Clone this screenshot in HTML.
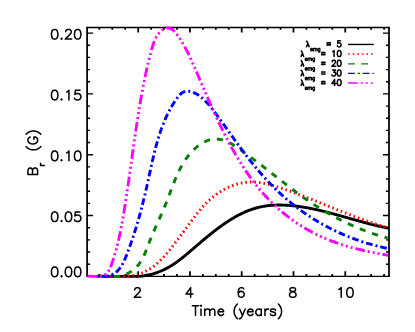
<!DOCTYPE html>
<html><head><meta charset="utf-8"><title>Br vs Time</title>
<style>html,body{margin:0;padding:0;background:#fff;font-family:"Liberation Sans",sans-serif}svg{display:block}</style></head>
<body>
<svg width="415" height="332" viewBox="0 0 415 332">
<rect width="415" height="332" fill="#fff"/>
<path d="M86.95 27.50 H389.15 M86.95 276.35 H389.15" fill="none" stroke="#000" stroke-width="1.40" stroke-linecap="round"/><path d="M87.10 27.65 V276.20 M389.00 27.65 V276.20" fill="none" stroke="#000" stroke-width="1.75" stroke-linecap="round"/>
<path d="M87.10 264.19 h3.00 M389.00 264.19 h-3.00 M87.10 252.03 h3.00 M389.00 252.03 h-3.00 M87.10 239.86 h3.00 M389.00 239.86 h-3.00 M87.10 227.70 h3.00 M389.00 227.70 h-3.00 M87.10 215.54 h6.00 M389.00 215.54 h-6.00 M87.10 203.38 h3.00 M389.00 203.38 h-3.00 M87.10 191.21 h3.00 M389.00 191.21 h-3.00 M87.10 179.05 h3.00 M389.00 179.05 h-3.00 M87.10 166.89 h3.00 M389.00 166.89 h-3.00 M87.10 154.73 h6.00 M389.00 154.73 h-6.00 M87.10 142.56 h3.00 M389.00 142.56 h-3.00 M87.10 130.40 h3.00 M389.00 130.40 h-3.00 M87.10 118.24 h3.00 M389.00 118.24 h-3.00 M87.10 106.08 h3.00 M389.00 106.08 h-3.00 M87.10 93.91 h6.00 M389.00 93.91 h-6.00 M87.10 81.75 h3.00 M389.00 81.75 h-3.00 M87.10 69.59 h3.00 M389.00 69.59 h-3.00 M87.10 57.42 h3.00 M389.00 57.42 h-3.00 M87.10 45.26 h3.00 M389.00 45.26 h-3.00 M87.10 33.10 h6.00 M389.00 33.10 h-6.00" fill="none" stroke="#000" stroke-width="1.40"/>
<path d="M99.35 276.35 v-2.30 M99.35 27.50 v2.30 M112.29 276.35 v-2.30 M112.29 27.50 v2.30 M125.24 276.35 v-2.30 M125.24 27.50 v2.30 M138.18 276.35 v-5.00 M138.18 27.50 v5.00 M151.12 276.35 v-2.30 M151.12 27.50 v2.30 M164.06 276.35 v-2.30 M164.06 27.50 v2.30 M177.00 276.35 v-2.30 M177.00 27.50 v2.30 M189.95 276.35 v-5.00 M189.95 27.50 v5.00 M202.89 276.35 v-2.30 M202.89 27.50 v2.30 M215.83 276.35 v-2.30 M215.83 27.50 v2.30 M228.77 276.35 v-2.30 M228.77 27.50 v2.30 M241.71 276.35 v-5.00 M241.71 27.50 v5.00 M254.66 276.35 v-2.30 M254.66 27.50 v2.30 M267.60 276.35 v-2.30 M267.60 27.50 v2.30 M280.54 276.35 v-2.30 M280.54 27.50 v2.30 M293.48 276.35 v-5.00 M293.48 27.50 v5.00 M306.42 276.35 v-2.30 M306.42 27.50 v2.30 M319.37 276.35 v-2.30 M319.37 27.50 v2.30 M332.31 276.35 v-2.30 M332.31 27.50 v2.30 M345.25 276.35 v-5.00 M345.25 27.50 v5.00 M358.19 276.35 v-2.30 M358.19 27.50 v2.30 M371.13 276.35 v-2.30 M371.13 27.50 v2.30 M384.08 276.35 v-2.30 M384.08 27.50 v2.30" fill="none" stroke="#000" stroke-width="1.75"/>
<clipPath id="c"><rect x="86.40" y="25.90" width="303.30" height="252.05"/></clipPath>
<clipPath id="c2"><rect x="97.4" y="25.90" width="292.30" height="252.05"/></clipPath>
<g clip-path="url(#c)" fill="none" stroke-width="2.90">
<path d="M87.52 276.31 L88.13 276.27 L88.75 276.24 L89.38 276.21 L90.00 276.19 L90.63 276.16 L91.26 276.14 L91.89 276.13 L92.52 276.11 L93.15 276.10 L93.79 276.09 L94.42 276.09 L95.06 276.09 L95.70 276.08 L96.34 276.09 L96.99 276.09 L97.63 276.10 L98.27 276.10 L98.92 276.11 L99.57 276.12 L100.22 276.14 L100.87 276.15 L101.52 276.17 L102.17 276.18 L102.83 276.20 L103.48 276.22 L104.14 276.24 L104.79 276.27 L105.45 276.29 L106.11 276.31 L106.77 276.34 L107.43 276.35 L108.09 276.35 L108.75 276.35 L109.41 276.35 L110.08 276.35 L110.74 276.35 L111.40 276.35 L112.07 276.35 L112.73 276.35 L113.40 276.35 L114.07 276.35 L114.73 276.35 L115.40 276.35 L116.07 276.35 L116.73 276.35 L117.40 276.35 L118.07 276.35 L118.73 276.35 L119.40 276.35 L120.07 276.35 L120.74 276.35 L121.40 276.35 L122.07 276.35 L122.74 276.35 L123.41 276.35 L124.07 276.35 L124.74 276.35 L125.41 276.35 L126.07 276.35 L126.74 276.35 L127.40 276.35 L128.07 276.35 L128.73 276.35 L129.40 276.35 L130.06 276.35 L130.72 276.35 L131.38 276.35 L132.05 276.35 L132.71 276.35 L133.37 276.35 L134.03 276.35 L134.68 276.35 L135.34 276.35 L136.00 276.35 L136.65 276.35 L137.31 276.35 L137.96 276.35 L138.61 276.35 L139.26 276.35 L139.91 276.30 L140.56 276.23 L141.21 276.15 L141.86 276.08 L142.50 275.99 L143.14 275.91 L143.79 275.81 L144.43 275.72 L145.07 275.62 L145.70 275.51 L146.34 275.40 L146.97 275.28 L147.61 275.16 L148.24 275.03 L148.87 274.90 L149.49 274.76 L150.12 274.61 L150.74 274.46 L151.37 274.31 L151.99 274.14 L152.60 273.98 L153.22 273.80 L153.83 273.62 L154.45 273.43 L155.06 273.24 L155.66 273.04 L156.27 272.84 L156.87 272.63 L157.48 272.41 L158.08 272.19 L158.67 271.97 L159.27 271.73 L159.86 271.50 L160.46 271.25 L161.05 271.00 L161.63 270.75 L162.22 270.49 L162.80 270.23 L163.38 269.96 L163.96 269.68 L164.54 269.40 L165.12 269.12 L165.69 268.83 L166.26 268.53 L166.83 268.23 L167.39 267.93 L167.96 267.62 L168.52 267.31 L169.08 266.99 L169.64 266.67 L170.19 266.34 L170.75 266.01 L171.30 265.67 L171.85 265.33 L172.40 264.99 L172.94 264.64 L173.48 264.28 L174.02 263.93 L174.56 263.56 L175.10 263.20 L175.63 262.83 L176.16 262.46 L176.69 262.08 L177.22 261.70 L177.75 261.32 L178.27 260.93 L178.80 260.54 L179.32 260.15 L179.84 259.76 L180.36 259.36 L180.87 258.96 L181.39 258.56 L181.90 258.15 L182.42 257.74 L182.93 257.33 L183.44 256.92 L183.95 256.51 L184.45 256.09 L184.96 255.68 L185.47 255.26 L185.97 254.84 L186.48 254.42 L186.98 253.99 L187.48 253.57 L187.98 253.15 L188.48 252.72 L188.99 252.29 L189.49 251.87 L189.98 251.44 L190.48 251.01 L190.98 250.58 L191.48 250.16 L191.98 249.73 L192.48 249.30 L192.97 248.87 L193.47 248.44 L193.97 248.02 L194.47 247.59 L194.96 247.16 L195.46 246.73 L195.96 246.31 L196.45 245.88 L196.95 245.45 L197.45 245.03 L197.95 244.60 L198.44 244.17 L198.94 243.75 L199.44 243.32 L199.94 242.90 L200.43 242.48 L200.93 242.05 L201.43 241.63 L201.93 241.21 L202.43 240.79 L202.93 240.36 L203.43 239.94 L203.93 239.52 L204.43 239.10 L204.93 238.69 L205.44 238.27 L205.94 237.85 L206.44 237.43 L206.95 237.02 L207.45 236.60 L207.96 236.19 L208.46 235.78 L208.97 235.37 L209.48 234.95 L209.98 234.54 L210.49 234.13 L211.00 233.73 L211.51 233.32 L212.03 232.91 L212.54 232.51 L213.05 232.10 L213.57 231.70 L214.08 231.30 L214.60 230.90 L215.12 230.50 L215.64 230.10 L216.16 229.71 L216.68 229.31 L217.20 228.92 L217.72 228.52 L218.25 228.13 L218.78 227.74 L219.30 227.36 L219.83 226.97 L220.36 226.58 L220.89 226.20 L221.43 225.82 L221.96 225.44 L222.50 225.06 L223.04 224.68 L223.58 224.30 L224.12 223.93 L224.66 223.56 L225.20 223.19 L225.75 222.82 L226.30 222.45 L226.84 222.09 L227.39 221.73 L227.95 221.37 L228.50 221.01 L229.05 220.65 L229.61 220.30 L230.17 219.95 L230.73 219.60 L231.29 219.26 L231.85 218.91 L232.41 218.57 L232.98 218.24 L233.54 217.90 L234.11 217.57 L234.68 217.24 L235.25 216.92 L235.82 216.60 L236.40 216.28 L236.97 215.96 L237.55 215.65 L238.12 215.34 L238.70 215.04 L239.29 214.74 L239.87 214.44 L240.45 214.14 L241.04 213.85 L241.62 213.57 L242.21 213.28 L242.80 213.01 L243.39 212.73 L243.98 212.46 L244.58 212.19 L245.17 211.93 L245.77 211.67 L246.37 211.42 L246.96 211.17 L247.57 210.92 L248.17 210.68 L248.77 210.45 L249.38 210.22 L249.98 209.99 L250.59 209.77 L251.20 209.55 L251.81 209.34 L252.42 209.13 L253.03 208.93 L253.65 208.74 L254.26 208.54 L254.88 208.36 L255.50 208.18 L256.12 208.00 L256.74 207.83 L257.36 207.67 L257.98 207.51 L258.61 207.36 L259.24 207.21 L259.86 207.07 L260.49 206.93 L261.12 206.80 L261.75 206.67 L262.38 206.55 L263.02 206.43 L263.65 206.32 L264.29 206.22 L264.92 206.11 L265.56 206.02 L266.20 205.93 L266.84 205.84 L267.48 205.76 L268.12 205.68 L268.76 205.61 L269.40 205.54 L270.05 205.48 L270.69 205.42 L271.34 205.37 L271.98 205.32 L272.63 205.27 L273.28 205.23 L273.92 205.19 L274.57 205.16 L275.22 205.13 L275.87 205.11 L276.52 205.09 L277.17 205.07 L277.82 205.06 L278.47 205.05 L279.12 205.05 L279.77 205.05 L280.43 205.05 L281.08 205.06 L281.73 205.07 L282.38 205.08 L283.04 205.10 L283.69 205.12 L284.34 205.15 L285.00 205.17 L285.65 205.20 L286.31 205.24 L286.96 205.28 L287.61 205.32 L288.27 205.36 L288.92 205.41 L289.57 205.46 L290.23 205.51 L290.88 205.57 L291.54 205.63 L292.19 205.69 L292.84 205.76 L293.49 205.82 L294.15 205.90 L294.80 205.97 L295.45 206.04 L296.10 206.12 L296.75 206.20 L297.41 206.29 L298.06 206.37 L298.71 206.46 L299.36 206.55 L300.00 206.64 L300.65 206.74 L301.30 206.83 L301.95 206.93 L302.60 207.03 L303.24 207.13 L303.89 207.24 L304.53 207.35 L305.18 207.46 L305.82 207.57 L306.47 207.68 L307.11 207.80 L307.76 207.91 L308.40 208.03 L309.04 208.15 L309.68 208.27 L310.33 208.40 L310.97 208.52 L311.61 208.65 L312.25 208.78 L312.89 208.91 L313.53 209.05 L314.17 209.18 L314.81 209.32 L315.45 209.45 L316.09 209.59 L316.72 209.73 L317.36 209.87 L318.00 210.02 L318.64 210.16 L319.27 210.31 L319.91 210.46 L320.55 210.61 L321.18 210.76 L321.82 210.91 L322.45 211.06 L323.09 211.21 L323.72 211.37 L324.36 211.52 L324.99 211.68 L325.63 211.84 L326.26 212.00 L326.89 212.16 L327.53 212.32 L328.16 212.48 L328.79 212.65 L329.43 212.81 L330.06 212.98 L330.69 213.14 L331.32 213.31 L331.95 213.48 L332.59 213.64 L333.22 213.81 L333.85 213.98 L334.48 214.15 L335.11 214.33 L335.74 214.50 L336.37 214.67 L337.00 214.84 L337.63 215.02 L338.26 215.19 L338.89 215.36 L339.52 215.54 L340.15 215.72 L340.78 215.89 L341.41 216.07 L342.04 216.24 L342.67 216.42 L343.30 216.60 L343.93 216.78 L344.56 216.95 L345.19 217.13 L345.81 217.31 L346.44 217.49 L347.07 217.66 L347.70 217.84 L348.33 218.02 L348.96 218.20 L349.59 218.38 L350.21 218.56 L350.84 218.73 L351.47 218.91 L352.10 219.09 L352.73 219.27 L353.36 219.45 L353.98 219.62 L354.61 219.80 L355.24 219.98 L355.87 220.15 L356.50 220.33 L357.13 220.51 L357.75 220.68 L358.38 220.86 L359.01 221.03 L359.64 221.21 L360.27 221.38 L360.90 221.55 L361.52 221.73 L362.15 221.90 L362.78 222.07 L363.41 222.24 L364.04 222.41 L364.67 222.58 L365.30 222.75 L365.93 222.92 L366.56 223.08 L367.19 223.25 L367.82 223.42 L368.45 223.58 L369.08 223.74 L369.71 223.91 L370.34 224.07 L370.97 224.23 L371.60 224.39 L372.23 224.55 L372.86 224.71 L373.49 224.86 L374.12 225.02 L374.75 225.17 L375.39 225.32 L376.02 225.48 L376.65 225.63 L377.28 225.78 L377.91 225.92 L378.55 226.07 L379.18 226.22 L379.81 226.36 L380.45 226.50 L381.08 226.64 L381.72 226.78 L382.35 226.92 L382.98 227.06 L383.62 227.19 L384.25 227.33 L384.89 227.46 L385.52 227.59 L386.16 227.72 L386.80 227.84 L387.43 227.97 L388.07 228.09" stroke="#000" clip-path="url(#c2)"/>
<path d="M87.55 276.35 L88.19 276.35 L88.83 276.31 L89.48 276.27 L90.13 276.23 L90.78 276.19 L91.44 276.16 L92.10 276.14 L92.77 276.12 L93.44 276.10 L94.11 276.09 L94.79 276.08 L95.46 276.07 L96.15 276.07 L96.83 276.07 L97.52 276.07 L98.21 276.08 L98.90 276.09 L99.60 276.10 L100.30 276.11 L101.00 276.13 L101.70 276.14 L102.40 276.16 L103.11 276.18 L103.82 276.20 L104.53 276.22 L105.24 276.24 L105.95 276.26 L106.67 276.28 L107.38 276.30 L108.10 276.32 L108.82 276.34 L109.54 276.35 L110.26 276.35 L110.98 276.35 L111.70 276.35 L112.42 276.35 L113.14 276.35 L113.86 276.35 L114.58 276.35 L115.31 276.35 L116.03 276.35 L116.75 276.35 L117.47 276.35 L118.19 276.35 L118.91 276.35 L119.63 276.35 L120.35 276.35 L121.07 276.35 L121.79 276.35 L122.50 276.35 L123.22 276.35 L123.93 276.31 L124.64 276.27 L125.35 276.23 L126.06 276.18 L126.77 276.12 L127.47 276.06 L128.17 275.99 L128.87 275.91 L129.57 275.83 L130.27 275.74 L130.96 275.65 L131.65 275.55 L132.34 275.44 L133.02 275.32 L133.70 275.20 L134.38 275.06 L135.06 274.92 L135.73 274.78 L136.40 274.62 L137.07 274.45 L137.73 274.28 L138.39 274.10 L139.04 273.90 L139.69 273.70 L140.34 273.49 L140.98 273.27 L141.61 273.04 L142.25 272.80 L142.88 272.54 L143.50 272.28 L144.12 272.01 L144.73 271.73 L145.35 271.44 L145.95 271.13 L146.55 270.82 L147.15 270.50 L147.74 270.18 L148.33 269.84 L148.92 269.49 L149.50 269.14 L150.07 268.78 L150.65 268.41 L151.21 268.03 L151.78 267.64 L152.34 267.25 L152.89 266.85 L153.45 266.44 L153.99 266.02 L154.54 265.60 L155.08 265.17 L155.61 264.74 L156.14 264.30 L156.67 263.85 L157.20 263.40 L157.72 262.94 L158.23 262.47 L158.74 262.00 L159.25 261.53 L159.76 261.05 L160.26 260.56 L160.76 260.07 L161.25 259.58 L161.74 259.08 L162.22 258.58 L162.71 258.07 L163.19 257.56 L163.66 257.04 L164.13 256.53 L164.60 256.01 L165.07 255.48 L165.53 254.95 L165.99 254.42 L166.44 253.89 L166.90 253.35 L167.35 252.82 L167.80 252.28 L168.24 251.73 L168.69 251.19 L169.13 250.65 L169.57 250.10 L170.00 249.55 L170.44 249.00 L170.87 248.45 L171.31 247.90 L171.74 247.35 L172.17 246.79 L172.60 246.24 L173.03 245.69 L173.45 245.13 L173.88 244.58 L174.31 244.02 L174.73 243.47 L175.15 242.91 L175.58 242.36 L176.00 241.80 L176.42 241.24 L176.84 240.69 L177.26 240.13 L177.68 239.57 L178.10 239.02 L178.51 238.46 L178.93 237.90 L179.35 237.34 L179.76 236.79 L180.18 236.23 L180.59 235.67 L181.01 235.11 L181.42 234.55 L181.83 233.99 L182.25 233.44 L182.66 232.88 L183.07 232.32 L183.49 231.76 L183.90 231.20 L184.31 230.64 L184.72 230.09 L185.13 229.53 L185.55 228.97 L185.96 228.41 L186.37 227.86 L186.78 227.30 L187.20 226.74 L187.61 226.18 L188.02 225.63 L188.43 225.07 L188.85 224.51 L189.26 223.96 L189.67 223.40 L190.09 222.85 L190.50 222.29 L190.92 221.74 L191.33 221.18 L191.75 220.63 L192.17 220.08 L192.58 219.52 L193.00 218.97 L193.42 218.42 L193.84 217.87 L194.26 217.31 L194.68 216.76 L195.10 216.21 L195.52 215.66 L195.95 215.12 L196.37 214.57 L196.80 214.02 L197.22 213.48 L197.65 212.93 L198.08 212.39 L198.52 211.85 L198.95 211.31 L199.39 210.77 L199.83 210.23 L200.27 209.70 L200.72 209.16 L201.17 208.63 L201.62 208.11 L202.07 207.58 L202.53 207.06 L202.99 206.54 L203.46 206.02 L203.93 205.50 L204.40 204.99 L204.88 204.48 L205.36 203.98 L205.84 203.47 L206.33 202.97 L206.83 202.48 L207.33 201.99 L207.83 201.50 L208.34 201.01 L208.85 200.53 L209.37 200.06 L209.90 199.59 L210.43 199.12 L210.96 198.65 L211.50 198.20 L212.04 197.74 L212.58 197.29 L213.14 196.84 L213.69 196.40 L214.25 195.97 L214.81 195.54 L215.38 195.11 L215.95 194.69 L216.52 194.28 L217.10 193.87 L217.69 193.46 L218.27 193.06 L218.86 192.67 L219.46 192.28 L220.05 191.90 L220.65 191.52 L221.26 191.15 L221.86 190.79 L222.47 190.43 L223.09 190.07 L223.70 189.73 L224.32 189.39 L224.94 189.06 L225.57 188.73 L226.20 188.41 L226.83 188.10 L227.46 187.79 L228.10 187.49 L228.73 187.20 L229.37 186.91 L230.02 186.63 L230.66 186.36 L231.31 186.10 L231.96 185.84 L232.61 185.59 L233.26 185.35 L233.92 185.12 L234.58 184.89 L235.24 184.68 L235.90 184.47 L236.56 184.26 L237.22 184.07 L237.89 183.88 L238.56 183.71 L239.23 183.54 L239.90 183.38 L240.57 183.23 L241.24 183.09 L241.91 182.95 L242.59 182.83 L243.26 182.71 L243.94 182.60 L244.62 182.51 L245.30 182.42 L245.97 182.34 L246.65 182.27 L247.33 182.21 L248.01 182.16 L248.69 182.11 L249.38 182.08 L250.06 182.06 L250.74 182.05 L251.42 182.04 L252.10 182.05 L252.79 182.06 L253.47 182.08 L254.15 182.12 L254.84 182.15 L255.52 182.20 L256.20 182.26 L256.89 182.32 L257.57 182.39 L258.26 182.46 L258.94 182.55 L259.62 182.64 L260.31 182.74 L260.99 182.84 L261.68 182.95 L262.36 183.07 L263.04 183.19 L263.73 183.32 L264.41 183.46 L265.09 183.60 L265.78 183.75 L266.46 183.90 L267.14 184.05 L267.83 184.21 L268.51 184.38 L269.19 184.55 L269.87 184.73 L270.55 184.91 L271.24 185.09 L271.92 185.28 L272.60 185.47 L273.28 185.66 L273.96 185.86 L274.64 186.06 L275.31 186.26 L275.99 186.47 L276.67 186.68 L277.35 186.89 L278.02 187.10 L278.70 187.32 L279.37 187.54 L280.05 187.76 L280.72 187.98 L281.39 188.20 L282.07 188.43 L282.74 188.65 L283.41 188.88 L284.08 189.11 L284.75 189.33 L285.42 189.56 L286.08 189.79 L286.75 190.02 L287.42 190.26 L288.08 190.49 L288.75 190.72 L289.41 190.96 L290.08 191.19 L290.74 191.43 L291.40 191.67 L292.06 191.91 L292.73 192.15 L293.39 192.39 L294.05 192.63 L294.71 192.87 L295.36 193.11 L296.02 193.35 L296.68 193.60 L297.34 193.84 L298.00 194.09 L298.65 194.33 L299.31 194.58 L299.96 194.83 L300.62 195.08 L301.27 195.33 L301.93 195.58 L302.58 195.83 L303.23 196.08 L303.88 196.33 L304.54 196.58 L305.19 196.83 L305.84 197.08 L306.49 197.34 L307.14 197.59 L307.79 197.84 L308.44 198.10 L309.09 198.35 L309.74 198.61 L310.39 198.87 L311.04 199.12 L311.69 199.38 L312.33 199.64 L312.98 199.89 L313.63 200.15 L314.28 200.41 L314.92 200.67 L315.57 200.93 L316.21 201.19 L316.86 201.45 L317.51 201.71 L318.15 201.96 L318.80 202.23 L319.44 202.49 L320.09 202.75 L320.73 203.01 L321.38 203.27 L322.02 203.53 L322.67 203.79 L323.31 204.05 L323.95 204.31 L324.60 204.57 L325.24 204.83 L325.89 205.10 L326.53 205.36 L327.17 205.62 L327.82 205.88 L328.46 206.14 L329.10 206.40 L329.75 206.66 L330.39 206.93 L331.03 207.19 L331.68 207.45 L332.32 207.71 L332.97 207.97 L333.61 208.23 L334.25 208.49 L334.90 208.75 L335.54 209.01 L336.18 209.27 L336.83 209.53 L337.47 209.79 L338.11 210.05 L338.76 210.31 L339.40 210.57 L340.05 210.83 L340.69 211.09 L341.34 211.35 L341.98 211.60 L342.63 211.86 L343.27 212.12 L343.92 212.38 L344.56 212.63 L345.21 212.89 L345.85 213.14 L346.50 213.40 L347.15 213.65 L347.79 213.91 L348.44 214.16 L349.09 214.41 L349.74 214.67 L350.38 214.92 L351.03 215.17 L351.68 215.42 L352.33 215.67 L352.98 215.92 L353.63 216.17 L354.28 216.42 L354.93 216.67 L355.58 216.92 L356.23 217.16 L356.88 217.41 L357.53 217.65 L358.19 217.90 L358.84 218.14 L359.49 218.38 L360.14 218.63 L360.80 218.87 L361.45 219.11 L362.11 219.35 L362.76 219.59 L363.42 219.83 L364.08 220.06 L364.73 220.30 L365.39 220.54 L366.05 220.77 L366.71 221.01 L367.37 221.24 L368.03 221.47 L368.69 221.70 L369.35 221.93 L370.01 222.16 L370.67 222.39 L371.33 222.62 L372.00 222.84 L372.66 223.07 L373.32 223.29 L373.99 223.51 L374.65 223.74 L375.32 223.96 L375.99 224.18 L376.66 224.39 L377.33 224.61 L377.99 224.83 L378.66 225.04 L379.34 225.26 L380.01 225.47 L380.68 225.68 L381.35 225.89 L382.03 226.10 L382.70 226.31 L383.38 226.51 L384.05 226.72 L384.73 226.92 L385.41 227.12 L386.09 227.32 L386.77 227.52 L387.45 227.72 L388.13 227.92" stroke="#ff0000" stroke-dasharray="1.6 2.97" stroke-dashoffset="0.8" clip-path="url(#c2)"/>
<path d="M87.45 276.30 L88.21 276.22 L88.98 276.16 L89.76 276.11 L90.54 276.08 L91.33 276.06 L92.13 276.04 L92.93 276.04 L93.74 276.05 L94.55 276.07 L95.37 276.09 L96.19 276.12 L97.02 276.16 L97.85 276.20 L98.69 276.25 L99.53 276.30 L100.37 276.35 L101.21 276.35 L102.05 276.35 L102.90 276.35 L103.75 276.35 L104.60 276.35 L105.45 276.35 L106.30 276.35 L107.15 276.35 L108.00 276.35 L108.85 276.35 L109.70 276.35 L110.55 276.35 L111.40 276.35 L112.24 276.35 L113.08 276.35 L113.92 276.35 L114.75 276.35 L115.59 276.35 L116.42 276.35 L117.24 276.35 L118.06 276.30 L118.87 276.17 L119.68 276.02 L120.49 275.85 L121.29 275.67 L122.08 275.46 L122.86 275.24 L123.64 275.00 L124.41 274.74 L125.17 274.47 L125.92 274.17 L126.66 273.86 L127.40 273.54 L128.12 273.19 L128.83 272.83 L129.53 272.45 L130.22 272.05 L130.90 271.64 L131.57 271.21 L132.22 270.76 L132.86 270.30 L133.49 269.82 L134.10 269.32 L134.70 268.80 L135.28 268.27 L135.85 267.72 L136.40 267.16 L136.94 266.58 L137.46 265.98 L137.97 265.37 L138.47 264.75 L138.95 264.11 L139.42 263.46 L139.88 262.80 L140.33 262.12 L140.77 261.44 L141.19 260.74 L141.61 260.03 L142.01 259.31 L142.41 258.59 L142.79 257.85 L143.17 257.11 L143.54 256.36 L143.91 255.60 L144.26 254.83 L144.61 254.06 L144.95 253.28 L145.29 252.50 L145.62 251.72 L145.95 250.93 L146.27 250.13 L146.59 249.34 L146.91 248.54 L147.22 247.74 L147.53 246.94 L147.84 246.13 L148.15 245.33 L148.45 244.53 L148.76 243.73 L149.06 242.93 L149.36 242.13 L149.67 241.34 L149.98 240.55 L150.28 239.76 L150.59 238.97 L150.90 238.19 L151.22 237.42 L151.53 236.64 L151.85 235.88 L152.17 235.11 L152.49 234.35 L152.81 233.59 L153.13 232.83 L153.45 232.08 L153.78 231.33 L154.10 230.58 L154.43 229.83 L154.75 229.09 L155.08 228.34 L155.41 227.60 L155.74 226.86 L156.07 226.13 L156.40 225.39 L156.73 224.66 L157.06 223.92 L157.39 223.19 L157.72 222.46 L158.05 221.73 L158.38 221.00 L158.71 220.27 L159.04 219.54 L159.37 218.81 L159.70 218.08 L160.03 217.35 L160.36 216.62 L160.68 215.88 L161.01 215.15 L161.34 214.42 L161.66 213.69 L161.99 212.95 L162.31 212.22 L162.63 211.48 L162.95 210.74 L163.27 210.00 L163.59 209.26 L163.90 208.51 L164.22 207.77 L164.53 207.02 L164.84 206.26 L165.15 205.51 L165.45 204.75 L165.76 203.99 L166.06 203.23 L166.36 202.47 L166.66 201.70 L166.96 200.93 L167.26 200.16 L167.55 199.38 L167.85 198.61 L168.14 197.83 L168.44 197.05 L168.73 196.27 L169.02 195.49 L169.32 194.71 L169.61 193.93 L169.90 193.14 L170.20 192.36 L170.49 191.57 L170.78 190.79 L171.08 190.00 L171.38 189.21 L171.67 188.43 L171.97 187.64 L172.27 186.85 L172.57 186.07 L172.88 185.28 L173.18 184.50 L173.49 183.72 L173.80 182.94 L174.11 182.15 L174.42 181.37 L174.74 180.60 L175.06 179.82 L175.38 179.04 L175.70 178.27 L176.03 177.50 L176.36 176.73 L176.70 175.97 L177.04 175.20 L177.38 174.44 L177.72 173.68 L178.08 172.92 L178.43 172.17 L178.79 171.42 L179.15 170.67 L179.52 169.93 L179.90 169.19 L180.27 168.46 L180.66 167.72 L181.05 167.00 L181.44 166.27 L181.84 165.55 L182.25 164.84 L182.66 164.13 L183.08 163.42 L183.50 162.72 L183.93 162.02 L184.37 161.33 L184.81 160.65 L185.26 159.97 L185.72 159.29 L186.18 158.62 L186.66 157.96 L187.14 157.30 L187.62 156.65 L188.12 156.01 L188.62 155.37 L189.13 154.74 L189.65 154.11 L190.18 153.49 L190.72 152.88 L191.26 152.28 L191.81 151.68 L192.38 151.09 L192.95 150.51 L193.53 149.94 L194.12 149.37 L194.72 148.81 L195.33 148.26 L195.95 147.72 L196.58 147.18 L197.22 146.66 L197.87 146.14 L198.53 145.64 L199.20 145.15 L199.87 144.67 L200.56 144.20 L201.25 143.74 L201.96 143.31 L202.67 142.89 L203.38 142.48 L204.11 142.09 L204.84 141.73 L205.58 141.38 L206.32 141.05 L207.07 140.75 L207.83 140.47 L208.59 140.21 L209.36 139.98 L210.13 139.77 L210.90 139.59 L211.68 139.43 L212.47 139.31 L213.25 139.21 L214.04 139.14 L214.83 139.10 L215.63 139.08 L216.42 139.09 L217.21 139.13 L218.00 139.19 L218.79 139.27 L219.57 139.39 L220.35 139.52 L221.13 139.68 L221.91 139.86 L222.68 140.07 L223.45 140.29 L224.21 140.54 L224.98 140.80 L225.74 141.08 L226.49 141.39 L227.24 141.71 L227.99 142.04 L228.74 142.39 L229.48 142.76 L230.22 143.14 L230.96 143.54 L231.69 143.94 L232.42 144.36 L233.15 144.79 L233.88 145.24 L234.60 145.69 L235.32 146.15 L236.03 146.61 L236.75 147.09 L237.46 147.57 L238.17 148.06 L238.87 148.55 L239.58 149.05 L240.28 149.55 L240.97 150.05 L241.67 150.55 L242.36 151.06 L243.05 151.56 L243.74 152.07 L244.43 152.57 L245.11 153.08 L245.79 153.58 L246.47 154.08 L247.14 154.58 L247.82 155.08 L248.49 155.58 L249.16 156.08 L249.83 156.58 L250.49 157.07 L251.16 157.57 L251.82 158.06 L252.48 158.56 L253.14 159.05 L253.80 159.55 L254.45 160.04 L255.11 160.53 L255.76 161.03 L256.41 161.52 L257.06 162.01 L257.71 162.50 L258.36 162.99 L259.01 163.48 L259.65 163.98 L260.30 164.47 L260.94 164.96 L261.59 165.45 L262.23 165.94 L262.87 166.43 L263.52 166.92 L264.16 167.42 L264.80 167.91 L265.44 168.40 L266.08 168.89 L266.72 169.39 L267.36 169.88 L268.00 170.38 L268.64 170.87 L269.28 171.37 L269.91 171.86 L270.55 172.36 L271.19 172.86 L271.83 173.36 L272.47 173.86 L273.11 174.36 L273.75 174.86 L274.40 175.36 L275.04 175.86 L275.68 176.36 L276.32 176.87 L276.96 177.37 L277.61 177.88 L278.25 178.38 L278.90 178.89 L279.54 179.40 L280.19 179.90 L280.83 180.41 L281.48 180.92 L282.13 181.42 L282.77 181.93 L283.42 182.44 L284.07 182.95 L284.72 183.45 L285.37 183.96 L286.02 184.47 L286.68 184.97 L287.33 185.48 L287.98 185.98 L288.63 186.49 L289.29 186.99 L289.94 187.50 L290.60 188.00 L291.26 188.50 L291.92 189.00 L292.57 189.50 L293.23 190.00 L293.89 190.50 L294.56 191.00 L295.22 191.49 L295.88 191.99 L296.54 192.48 L297.21 192.98 L297.87 193.47 L298.54 193.96 L299.21 194.45 L299.88 194.93 L300.55 195.42 L301.22 195.90 L301.89 196.39 L302.56 196.87 L303.24 197.34 L303.91 197.82 L304.59 198.30 L305.26 198.77 L305.94 199.24 L306.62 199.71 L307.30 200.18 L307.98 200.64 L308.66 201.11 L309.35 201.57 L310.03 202.03 L310.72 202.48 L311.40 202.94 L312.09 203.39 L312.78 203.85 L313.47 204.30 L314.16 204.75 L314.85 205.19 L315.54 205.64 L316.24 206.08 L316.93 206.52 L317.63 206.96 L318.33 207.39 L319.02 207.83 L319.72 208.26 L320.42 208.69 L321.13 209.12 L321.83 209.54 L322.53 209.97 L323.24 210.39 L323.94 210.81 L324.65 211.23 L325.36 211.64 L326.06 212.06 L326.77 212.47 L327.48 212.88 L328.20 213.29 L328.91 213.69 L329.62 214.09 L330.34 214.49 L331.05 214.89 L331.77 215.29 L332.49 215.68 L333.21 216.08 L333.93 216.47 L334.65 216.86 L335.37 217.24 L336.10 217.62 L336.82 218.01 L337.55 218.39 L338.27 218.76 L339.00 219.14 L339.73 219.51 L340.46 219.88 L341.19 220.25 L341.92 220.61 L342.65 220.98 L343.39 221.34 L344.12 221.70 L344.86 222.05 L345.60 222.41 L346.33 222.76 L347.07 223.11 L347.81 223.46 L348.55 223.80 L349.30 224.14 L350.04 224.49 L350.78 224.82 L351.53 225.16 L352.28 225.49 L353.02 225.82 L353.77 226.15 L354.52 226.48 L355.27 226.80 L356.02 227.12 L356.78 227.44 L357.53 227.76 L358.29 228.07 L359.04 228.38 L359.80 228.69 L360.56 229.00 L361.32 229.30 L362.08 229.61 L362.84 229.90 L363.60 230.20 L364.36 230.50 L365.13 230.79 L365.89 231.08 L366.66 231.36 L367.43 231.65 L368.19 231.93 L368.96 232.21 L369.73 232.49 L370.51 232.76 L371.28 233.03 L372.05 233.30 L372.83 233.57 L373.60 233.83 L374.38 234.09 L375.16 234.35 L375.94 234.61 L376.72 234.86 L377.50 235.11 L378.28 235.36 L379.06 235.60 L379.85 235.85 L380.63 236.09 L381.42 236.32 L382.20 236.56 L382.99 236.79 L383.78 237.02 L384.57 237.25 L385.36 237.47 L386.16 237.69 L386.95 237.91 L387.74 238.13" stroke="#008000" stroke-dasharray="6.2 6.87" stroke-dashoffset="0" clip-path="url(#c2)"/>
<path d="M87.50 276.22 L88.34 276.28 L89.22 276.34 L90.12 276.35 L91.05 276.35 L92.01 276.35 L92.98 276.35 L93.98 276.35 L94.99 276.35 L96.01 276.35 L97.05 276.35 L98.09 276.35 L99.14 276.35 L100.19 276.35 L101.24 276.35 L102.29 276.35 L103.34 276.35 L104.38 276.35 L105.41 276.32 L106.42 276.16 L107.42 275.97 L108.41 275.76 L109.37 275.51 L110.31 275.22 L111.23 274.90 L112.11 274.54 L112.97 274.14 L113.79 273.70 L114.58 273.22 L115.34 272.71 L116.08 272.15 L116.78 271.56 L117.45 270.94 L118.10 270.29 L118.73 269.60 L119.33 268.89 L119.91 268.15 L120.46 267.38 L121.00 266.59 L121.52 265.78 L122.02 264.95 L122.50 264.10 L122.96 263.23 L123.41 262.35 L123.85 261.45 L124.27 260.54 L124.69 259.62 L125.09 258.69 L125.49 257.75 L125.87 256.81 L126.25 255.86 L126.62 254.91 L126.99 253.96 L127.36 253.01 L127.72 252.06 L128.08 251.10 L128.43 250.15 L128.79 249.20 L129.14 248.26 L129.48 247.31 L129.83 246.36 L130.17 245.41 L130.50 244.46 L130.84 243.52 L131.17 242.57 L131.50 241.62 L131.82 240.68 L132.15 239.73 L132.47 238.79 L132.78 237.84 L133.10 236.89 L133.41 235.95 L133.72 235.01 L134.03 234.06 L134.33 233.12 L134.63 232.17 L134.93 231.23 L135.23 230.29 L135.52 229.34 L135.81 228.40 L136.10 227.45 L136.39 226.51 L136.67 225.57 L136.95 224.62 L137.23 223.68 L137.51 222.74 L137.79 221.79 L138.06 220.85 L138.33 219.90 L138.60 218.96 L138.87 218.02 L139.13 217.07 L139.40 216.13 L139.66 215.18 L139.92 214.24 L140.18 213.29 L140.43 212.35 L140.68 211.40 L140.94 210.45 L141.19 209.51 L141.44 208.56 L141.68 207.61 L141.93 206.67 L142.17 205.72 L142.41 204.77 L142.65 203.82 L142.89 202.87 L143.13 201.92 L143.37 200.97 L143.60 200.02 L143.83 199.07 L144.07 198.11 L144.30 197.16 L144.53 196.21 L144.75 195.25 L144.98 194.30 L145.21 193.35 L145.43 192.39 L145.65 191.43 L145.88 190.47 L146.10 189.52 L146.32 188.56 L146.54 187.60 L146.75 186.64 L146.97 185.68 L147.19 184.71 L147.40 183.75 L147.62 182.79 L147.83 181.82 L148.05 180.86 L148.26 179.89 L148.47 178.92 L148.68 177.95 L148.89 176.98 L149.10 176.01 L149.31 175.04 L149.53 174.07 L149.74 173.10 L149.95 172.13 L150.16 171.16 L150.37 170.18 L150.58 169.21 L150.80 168.24 L151.01 167.26 L151.22 166.29 L151.44 165.32 L151.65 164.34 L151.87 163.37 L152.09 162.40 L152.31 161.42 L152.53 160.45 L152.76 159.48 L152.98 158.51 L153.21 157.54 L153.44 156.56 L153.67 155.59 L153.90 154.62 L154.13 153.65 L154.37 152.69 L154.61 151.72 L154.85 150.75 L155.10 149.79 L155.35 148.82 L155.60 147.86 L155.85 146.89 L156.11 145.93 L156.37 144.97 L156.63 144.01 L156.90 143.06 L157.17 142.10 L157.44 141.15 L157.72 140.19 L158.00 139.24 L158.29 138.29 L158.57 137.34 L158.87 136.40 L159.17 135.45 L159.47 134.51 L159.78 133.57 L160.09 132.63 L160.40 131.69 L160.72 130.76 L161.05 129.82 L161.38 128.89 L161.72 127.97 L162.06 127.04 L162.41 126.12 L162.76 125.20 L163.12 124.28 L163.48 123.36 L163.85 122.45 L164.23 121.54 L164.61 120.63 L164.99 119.73 L165.39 118.83 L165.79 117.93 L166.20 117.03 L166.61 116.14 L167.03 115.25 L167.46 114.37 L167.89 113.48 L168.33 112.60 L168.78 111.73 L169.23 110.85 L169.69 109.98 L170.16 109.12 L170.64 108.26 L171.13 107.40 L171.62 106.54 L172.12 105.69 L172.63 104.85 L173.14 104.00 L173.67 103.16 L174.20 102.33 L174.74 101.50 L175.29 100.67 L175.85 99.85 L176.42 99.03 L177.00 98.22 L177.59 97.42 L178.19 96.64 L178.81 95.88 L179.45 95.16 L180.11 94.48 L180.80 93.85 L181.52 93.27 L182.26 92.75 L183.04 92.30 L183.86 91.93 L184.72 91.64 L185.61 91.43 L186.54 91.31 L187.50 91.28 L188.47 91.31 L189.46 91.42 L190.45 91.60 L191.43 91.83 L192.41 92.13 L193.38 92.48 L194.33 92.88 L195.27 93.32 L196.19 93.81 L197.09 94.33 L197.98 94.89 L198.85 95.47 L199.70 96.08 L200.53 96.71 L201.34 97.36 L202.13 98.01 L202.90 98.69 L203.65 99.37 L204.38 100.06 L205.09 100.76 L205.79 101.48 L206.47 102.20 L207.14 102.93 L207.79 103.66 L208.44 104.41 L209.07 105.16 L209.70 105.91 L210.32 106.67 L210.93 107.44 L211.54 108.21 L212.14 108.98 L212.74 109.75 L213.34 110.53 L213.93 111.30 L214.52 112.08 L215.11 112.86 L215.70 113.64 L216.29 114.42 L216.88 115.20 L217.46 115.99 L218.05 116.77 L218.63 117.56 L219.21 118.35 L219.79 119.13 L220.37 119.92 L220.95 120.71 L221.52 121.50 L222.10 122.30 L222.67 123.09 L223.25 123.88 L223.82 124.68 L224.39 125.47 L224.96 126.27 L225.54 127.06 L226.11 127.86 L226.68 128.65 L227.25 129.45 L227.82 130.25 L228.39 131.05 L228.96 131.84 L229.53 132.64 L230.10 133.44 L230.67 134.24 L231.24 135.04 L231.81 135.84 L232.38 136.63 L232.95 137.43 L233.52 138.23 L234.09 139.03 L234.66 139.83 L235.23 140.62 L235.81 141.42 L236.38 142.22 L236.95 143.01 L237.53 143.81 L238.11 144.61 L238.68 145.40 L239.26 146.20 L239.84 146.99 L240.42 147.78 L241.01 148.57 L241.59 149.37 L242.18 150.16 L242.76 150.95 L243.35 151.74 L243.94 152.52 L244.53 153.31 L245.12 154.10 L245.72 154.88 L246.32 155.66 L246.91 156.45 L247.52 157.23 L248.12 158.01 L248.72 158.79 L249.33 159.56 L249.94 160.34 L250.55 161.11 L251.17 161.89 L251.78 162.66 L252.40 163.43 L253.02 164.19 L253.65 164.96 L254.27 165.73 L254.90 166.49 L255.53 167.25 L256.17 168.01 L256.80 168.77 L257.44 169.52 L258.08 170.27 L258.73 171.03 L259.37 171.78 L260.02 172.52 L260.67 173.27 L261.33 174.01 L261.98 174.75 L262.64 175.49 L263.30 176.23 L263.97 176.97 L264.63 177.70 L265.30 178.43 L265.97 179.16 L266.65 179.88 L267.32 180.61 L268.00 181.33 L268.68 182.05 L269.37 182.76 L270.06 183.48 L270.74 184.19 L271.44 184.90 L272.13 185.60 L272.83 186.31 L273.53 187.01 L274.23 187.70 L274.93 188.40 L275.64 189.09 L276.35 189.78 L277.07 190.47 L277.78 191.15 L278.50 191.83 L279.22 192.51 L279.94 193.18 L280.67 193.86 L281.40 194.53 L282.13 195.19 L282.86 195.85 L283.60 196.51 L284.34 197.17 L285.08 197.82 L285.82 198.47 L286.57 199.12 L287.32 199.76 L288.07 200.40 L288.83 201.04 L289.59 201.67 L290.35 202.30 L291.11 202.93 L291.88 203.55 L292.65 204.17 L293.42 204.78 L294.20 205.40 L294.97 206.00 L295.75 206.61 L296.54 207.21 L297.32 207.81 L298.11 208.40 L298.90 208.99 L299.69 209.58 L300.49 210.16 L301.29 210.74 L302.09 211.31 L302.89 211.88 L303.70 212.45 L304.51 213.02 L305.32 213.58 L306.13 214.13 L306.95 214.69 L307.77 215.24 L308.59 215.78 L309.41 216.32 L310.24 216.86 L311.07 217.40 L311.90 217.93 L312.73 218.45 L313.57 218.98 L314.41 219.49 L315.25 220.01 L316.09 220.52 L316.94 221.03 L317.78 221.53 L318.63 222.03 L319.48 222.53 L320.34 223.02 L321.19 223.51 L322.05 224.00 L322.91 224.48 L323.77 224.96 L324.64 225.43 L325.51 225.90 L326.38 226.37 L327.25 226.83 L328.12 227.29 L328.99 227.74 L329.87 228.19 L330.75 228.64 L331.63 229.08 L332.51 229.52 L333.40 229.96 L334.29 230.39 L335.18 230.82 L336.07 231.24 L336.96 231.66 L337.85 232.08 L338.75 232.49 L339.65 232.90 L340.55 233.30 L341.45 233.70 L342.35 234.10 L343.26 234.49 L344.17 234.88 L345.08 235.26 L345.99 235.64 L346.90 236.02 L347.81 236.39 L348.73 236.76 L349.65 237.13 L350.57 237.49 L351.49 237.85 L352.41 238.20 L353.33 238.55 L354.26 238.89 L355.19 239.23 L356.11 239.57 L357.04 239.91 L357.98 240.23 L358.91 240.56 L359.84 240.88 L360.78 241.20 L361.72 241.51 L362.65 241.82 L363.59 242.13 L364.54 242.43 L365.48 242.72 L366.42 243.02 L367.37 243.30 L368.32 243.59 L369.26 243.87 L370.21 244.15 L371.16 244.42 L372.12 244.69 L373.07 244.95 L374.02 245.21 L374.98 245.47 L375.94 245.72 L376.89 245.97 L377.85 246.21 L378.81 246.45 L379.78 246.69 L380.74 246.92 L381.70 247.15 L382.67 247.37 L383.63 247.59 L384.60 247.81 L385.57 248.02 L386.53 248.23 L387.50 248.43" stroke="#0000ff" stroke-dasharray="6.7 3 2 2.94" stroke-dashoffset="0" clip-path="url(#c2)"/>
<path d="M87.39 276.25 L88.39 276.17 L89.52 276.17 L90.75 276.23 L92.06 276.33 L93.43 276.35 L94.83 276.35 L96.25 276.35 L97.66 276.35 L99.04 276.35 L100.37 276.35 L101.63 276.35 L102.80 276.14 L103.87 275.71 L104.84 275.17 L105.74 274.52 L106.55 273.78 L107.29 272.95 L107.97 272.05 L108.60 271.08 L109.17 270.05 L109.70 268.98 L110.19 267.87 L110.66 266.72 L111.10 265.56 L111.53 264.39 L111.95 263.21 L112.36 262.04 L112.76 260.86 L113.16 259.68 L113.54 258.50 L113.92 257.32 L114.29 256.13 L114.66 254.95 L115.01 253.76 L115.36 252.57 L115.70 251.38 L116.04 250.19 L116.36 249.00 L116.68 247.80 L117.00 246.61 L117.31 245.41 L117.61 244.21 L117.90 243.01 L118.19 241.81 L118.48 240.61 L118.76 239.41 L119.03 238.21 L119.30 237.00 L119.56 235.80 L119.82 234.59 L120.08 233.39 L120.33 232.18 L120.57 230.97 L120.81 229.76 L121.05 228.55 L121.28 227.34 L121.51 226.13 L121.74 224.91 L121.96 223.70 L122.18 222.48 L122.40 221.27 L122.61 220.05 L122.82 218.84 L123.03 217.62 L123.24 216.41 L123.44 215.19 L123.65 213.97 L123.85 212.75 L124.04 211.53 L124.24 210.31 L124.44 209.09 L124.63 207.87 L124.82 206.65 L125.02 205.43 L125.21 204.21 L125.40 202.99 L125.58 201.77 L125.77 200.55 L125.96 199.33 L126.14 198.11 L126.33 196.88 L126.51 195.66 L126.70 194.44 L126.88 193.22 L127.06 191.99 L127.24 190.77 L127.42 189.55 L127.60 188.32 L127.78 187.10 L127.96 185.88 L128.13 184.65 L128.31 183.43 L128.49 182.21 L128.66 180.98 L128.84 179.76 L129.01 178.53 L129.19 177.31 L129.36 176.08 L129.53 174.86 L129.71 173.63 L129.88 172.41 L130.05 171.18 L130.22 169.96 L130.40 168.74 L130.57 167.51 L130.74 166.29 L130.91 165.06 L131.08 163.84 L131.26 162.61 L131.43 161.39 L131.60 160.16 L131.77 158.94 L131.94 157.71 L132.11 156.49 L132.28 155.26 L132.46 154.04 L132.63 152.81 L132.80 151.59 L132.97 150.37 L133.15 149.14 L133.32 147.92 L133.49 146.69 L133.67 145.47 L133.84 144.25 L134.02 143.02 L134.19 141.80 L134.37 140.58 L134.54 139.35 L134.72 138.13 L134.90 136.91 L135.08 135.69 L135.26 134.46 L135.43 133.24 L135.61 132.02 L135.80 130.80 L135.98 129.58 L136.16 128.36 L136.34 127.14 L136.53 125.92 L136.71 124.70 L136.90 123.48 L137.09 122.26 L137.27 121.04 L137.46 119.82 L137.65 118.60 L137.84 117.38 L138.04 116.16 L138.23 114.95 L138.42 113.73 L138.62 112.51 L138.82 111.30 L139.01 110.08 L139.21 108.86 L139.42 107.65 L139.62 106.43 L139.82 105.22 L140.03 104.00 L140.23 102.79 L140.44 101.58 L140.65 100.37 L140.86 99.15 L141.07 97.94 L141.29 96.73 L141.51 95.52 L141.72 94.31 L141.94 93.10 L142.16 91.89 L142.39 90.68 L142.61 89.47 L142.84 88.26 L143.07 87.06 L143.30 85.85 L143.53 84.64 L143.76 83.44 L144.00 82.23 L144.24 81.02 L144.48 79.82 L144.73 78.61 L144.98 77.41 L145.23 76.20 L145.48 75.00 L145.74 73.79 L146.00 72.59 L146.26 71.38 L146.52 70.18 L146.79 68.97 L147.07 67.77 L147.34 66.56 L147.62 65.35 L147.91 64.15 L148.19 62.94 L148.49 61.73 L148.78 60.52 L149.08 59.31 L149.38 58.10 L149.69 56.90 L150.01 55.68 L150.32 54.47 L150.64 53.26 L150.97 52.05 L151.30 50.84 L151.64 49.62 L151.98 48.41 L152.33 47.19 L152.69 45.98 L153.06 44.78 L153.46 43.58 L153.87 42.40 L154.32 41.23 L154.80 40.08 L155.31 38.95 L155.86 37.84 L156.46 36.76 L157.10 35.71 L157.79 34.69 L158.54 33.71 L159.35 32.76 L160.23 31.85 L161.16 30.99 L162.15 30.20 L163.17 29.50 L164.21 28.91 L165.26 28.45 L166.30 28.14 L167.33 28.00 L168.33 28.02 L169.31 28.20 L170.28 28.51 L171.22 28.96 L172.14 29.52 L173.05 30.19 L173.93 30.95 L174.79 31.81 L175.64 32.73 L176.46 33.72 L177.26 34.76 L178.05 35.84 L178.81 36.95 L179.56 38.08 L180.29 39.22 L181.00 40.36 L181.69 41.49 L182.36 42.61 L183.02 43.74 L183.66 44.86 L184.29 45.97 L184.90 47.09 L185.50 48.20 L186.09 49.31 L186.66 50.42 L187.23 51.52 L187.78 52.62 L188.32 53.73 L188.85 54.83 L189.38 55.93 L189.90 57.03 L190.41 58.13 L190.91 59.22 L191.41 60.32 L191.91 61.42 L192.40 62.52 L192.89 63.62 L193.37 64.73 L193.86 65.83 L194.34 66.93 L194.82 68.04 L195.31 69.15 L195.79 70.26 L196.27 71.37 L196.76 72.49 L197.24 73.60 L197.72 74.72 L198.20 75.84 L198.69 76.96 L199.17 78.08 L199.65 79.20 L200.14 80.32 L200.62 81.45 L201.11 82.57 L201.59 83.70 L202.08 84.83 L202.56 85.95 L203.05 87.08 L203.54 88.21 L204.03 89.34 L204.52 90.48 L205.01 91.61 L205.50 92.74 L205.99 93.87 L206.48 95.00 L206.97 96.14 L207.47 97.27 L207.96 98.41 L208.46 99.54 L208.96 100.67 L209.46 101.81 L209.96 102.94 L210.46 104.08 L210.97 105.21 L211.47 106.35 L211.98 107.48 L212.49 108.61 L212.99 109.75 L213.51 110.88 L214.02 112.01 L214.54 113.14 L215.05 114.27 L215.57 115.41 L216.09 116.54 L216.61 117.66 L217.14 118.79 L217.67 119.92 L218.20 121.05 L218.73 122.17 L219.26 123.30 L219.80 124.42 L220.34 125.54 L220.88 126.66 L221.42 127.78 L221.97 128.90 L222.51 130.02 L223.06 131.13 L223.62 132.25 L224.17 133.36 L224.73 134.47 L225.30 135.58 L225.86 136.69 L226.43 137.79 L227.00 138.90 L227.57 140.00 L228.15 141.10 L228.73 142.19 L229.31 143.29 L229.90 144.38 L230.49 145.47 L231.08 146.56 L231.68 147.65 L232.28 148.73 L232.89 149.82 L233.49 150.90 L234.10 151.97 L234.72 153.05 L235.34 154.12 L235.96 155.19 L236.58 156.25 L237.21 157.31 L237.85 158.37 L238.49 159.43 L239.13 160.49 L239.77 161.54 L240.42 162.58 L241.08 163.63 L241.73 164.67 L242.40 165.71 L243.06 166.74 L243.74 167.77 L244.41 168.80 L245.09 169.82 L245.78 170.85 L246.47 171.86 L247.16 172.87 L247.86 173.88 L248.56 174.89 L249.27 175.89 L249.98 176.89 L250.70 177.88 L251.43 178.87 L252.15 179.86 L252.89 180.84 L253.63 181.81 L254.37 182.79 L255.12 183.75 L255.87 184.72 L256.63 185.68 L257.40 186.63 L258.17 187.58 L258.94 188.53 L259.72 189.47 L260.51 190.40 L261.30 191.33 L262.10 192.26 L262.90 193.18 L263.71 194.10 L264.53 195.01 L265.35 195.91 L266.18 196.81 L267.01 197.71 L267.85 198.60 L268.69 199.48 L269.55 200.36 L270.40 201.24 L271.27 202.10 L272.14 202.97 L273.01 203.82 L273.90 204.67 L274.79 205.52 L275.68 206.36 L276.59 207.19 L277.50 208.02 L278.41 208.84 L279.33 209.66 L280.26 210.47 L281.20 211.27 L282.14 212.07 L283.09 212.86 L284.05 213.64 L285.01 214.42 L285.98 215.19 L286.96 215.96 L287.95 216.71 L288.94 217.46 L289.93 218.21 L290.93 218.95 L291.94 219.68 L292.96 220.40 L293.97 221.12 L295.00 221.83 L296.03 222.53 L297.07 223.23 L298.11 223.91 L299.15 224.60 L300.20 225.27 L301.26 225.93 L302.32 226.59 L303.39 227.24 L304.45 227.89 L305.53 228.52 L306.61 229.15 L307.69 229.77 L308.77 230.38 L309.86 230.98 L310.96 231.58 L312.05 232.16 L313.15 232.74 L314.26 233.31 L315.36 233.88 L316.47 234.43 L317.58 234.98 L318.70 235.51 L319.82 236.04 L320.94 236.56 L322.06 237.07 L323.19 237.57 L324.31 238.06 L325.44 238.55 L326.57 239.02 L327.71 239.49 L328.84 239.95 L329.98 240.40 L331.12 240.84 L332.26 241.28 L333.41 241.71 L334.56 242.13 L335.70 242.54 L336.85 242.94 L338.01 243.34 L339.16 243.73 L340.32 244.11 L341.48 244.49 L342.64 244.86 L343.80 245.22 L344.97 245.58 L346.13 245.93 L347.30 246.28 L348.47 246.62 L349.65 246.95 L350.82 247.28 L352.00 247.60 L353.18 247.91 L354.36 248.23 L355.54 248.53 L356.73 248.83 L357.92 249.13 L359.10 249.42 L360.30 249.71 L361.49 249.99 L362.68 250.27 L363.88 250.54 L365.08 250.81 L366.28 251.08 L367.48 251.34 L368.68 251.60 L369.89 251.85 L371.10 252.10 L372.31 252.35 L373.52 252.59 L374.73 252.84 L375.95 253.08 L377.17 253.31 L378.39 253.55 L379.61 253.78 L380.83 254.01 L382.05 254.23 L383.28 254.46 L384.51 254.68 L385.74 254.90 L386.97 255.12 L388.20 255.34" stroke="#ff00ff" stroke-dasharray="9.7 3 2 3 2 3 2 2.94" stroke-dashoffset="0"/>
</g>
<path d="M54.22 266.99 L52.84 267.45 L51.92 268.83 L51.46 271.13 L51.46 272.51 L51.92 274.81 L52.84 276.19 L54.22 276.65 L55.14 276.65 L56.52 276.19 L57.44 274.81 L57.90 272.51 L57.90 271.13 L57.44 268.83 L56.52 267.45 L55.14 266.99 L54.22 266.99 M61.58 275.73 L61.12 276.19 L61.58 276.65 L62.04 276.19 L61.58 275.73 M68.02 266.99 L66.64 267.45 L65.72 268.83 L65.26 271.13 L65.26 272.51 L65.72 274.81 L66.64 276.19 L68.02 276.65 L68.94 276.65 L70.32 276.19 L71.24 274.81 L71.70 272.51 L71.70 271.13 L71.24 268.83 L70.32 267.45 L68.94 266.99 L68.02 266.99 M77.22 266.99 L75.84 267.45 L74.92 268.83 L74.46 271.13 L74.46 272.51 L74.92 274.81 L75.84 276.19 L77.22 276.65 L78.14 276.65 L79.52 276.19 L80.44 274.81 L80.90 272.51 L80.90 271.13 L80.44 268.83 L79.52 267.45 L78.14 266.99 L77.22 266.99" fill="none" stroke="#000" stroke-width="1.50" stroke-linecap="round" stroke-linejoin="round"/>
<path d="M54.22 211.88 L52.84 212.34 L51.92 213.72 L51.46 216.02 L51.46 217.40 L51.92 219.70 L52.84 221.08 L54.22 221.54 L55.14 221.54 L56.52 221.08 L57.44 219.70 L57.90 217.40 L57.90 216.02 L57.44 213.72 L56.52 212.34 L55.14 211.88 L54.22 211.88 M61.58 220.62 L61.12 221.08 L61.58 221.54 L62.04 221.08 L61.58 220.62 M68.02 211.88 L66.64 212.34 L65.72 213.72 L65.26 216.02 L65.26 217.40 L65.72 219.70 L66.64 221.08 L68.02 221.54 L68.94 221.54 L70.32 221.08 L71.24 219.70 L71.70 217.40 L71.70 216.02 L71.24 213.72 L70.32 212.34 L68.94 211.88 L68.02 211.88 M79.98 211.88 L75.38 211.88 L74.92 216.02 L75.38 215.56 L76.76 215.10 L78.14 215.10 L79.52 215.56 L80.44 216.48 L80.90 217.86 L80.90 218.78 L80.44 220.16 L79.52 221.08 L78.14 221.54 L76.76 221.54 L75.38 221.08 L74.92 220.62 L74.46 219.70" fill="none" stroke="#000" stroke-width="1.50" stroke-linecap="round" stroke-linejoin="round"/>
<path d="M54.22 151.07 L52.84 151.53 L51.92 152.91 L51.46 155.21 L51.46 156.59 L51.92 158.89 L52.84 160.27 L54.22 160.73 L55.14 160.73 L56.52 160.27 L57.44 158.89 L57.90 156.59 L57.90 155.21 L57.44 152.91 L56.52 151.53 L55.14 151.07 L54.22 151.07 M61.58 159.81 L61.12 160.27 L61.58 160.73 L62.04 160.27 L61.58 159.81 M66.64 152.91 L67.56 152.45 L68.94 151.07 L68.94 160.73 M77.22 151.07 L75.84 151.53 L74.92 152.91 L74.46 155.21 L74.46 156.59 L74.92 158.89 L75.84 160.27 L77.22 160.73 L78.14 160.73 L79.52 160.27 L80.44 158.89 L80.90 156.59 L80.90 155.21 L80.44 152.91 L79.52 151.53 L78.14 151.07 L77.22 151.07" fill="none" stroke="#000" stroke-width="1.50" stroke-linecap="round" stroke-linejoin="round"/>
<path d="M54.22 90.25 L52.84 90.71 L51.92 92.09 L51.46 94.39 L51.46 95.77 L51.92 98.07 L52.84 99.45 L54.22 99.91 L55.14 99.91 L56.52 99.45 L57.44 98.07 L57.90 95.77 L57.90 94.39 L57.44 92.09 L56.52 90.71 L55.14 90.25 L54.22 90.25 M61.58 98.99 L61.12 99.45 L61.58 99.91 L62.04 99.45 L61.58 98.99 M66.64 92.09 L67.56 91.63 L68.94 90.25 L68.94 99.91 M79.98 90.25 L75.38 90.25 L74.92 94.39 L75.38 93.93 L76.76 93.47 L78.14 93.47 L79.52 93.93 L80.44 94.85 L80.90 96.23 L80.90 97.15 L80.44 98.53 L79.52 99.45 L78.14 99.91 L76.76 99.91 L75.38 99.45 L74.92 98.99 L74.46 98.07" fill="none" stroke="#000" stroke-width="1.50" stroke-linecap="round" stroke-linejoin="round"/>
<path d="M54.22 29.44 L52.84 29.90 L51.92 31.28 L51.46 33.58 L51.46 34.96 L51.92 37.26 L52.84 38.64 L54.22 39.10 L55.14 39.10 L56.52 38.64 L57.44 37.26 L57.90 34.96 L57.90 33.58 L57.44 31.28 L56.52 29.90 L55.14 29.44 L54.22 29.44 M61.58 38.18 L61.12 38.64 L61.58 39.10 L62.04 38.64 L61.58 38.18 M65.72 31.74 L65.72 31.28 L66.18 30.36 L66.64 29.90 L67.56 29.44 L69.40 29.44 L70.32 29.90 L70.78 30.36 L71.24 31.28 L71.24 32.20 L70.78 33.12 L69.86 34.50 L65.26 39.10 L71.70 39.10 M77.22 29.44 L75.84 29.90 L74.92 31.28 L74.46 33.58 L74.46 34.96 L74.92 37.26 L75.84 38.64 L77.22 39.10 L78.14 39.10 L79.52 38.64 L80.44 37.26 L80.90 34.96 L80.90 33.58 L80.44 31.28 L79.52 29.90 L78.14 29.44 L77.22 29.44" fill="none" stroke="#000" stroke-width="1.50" stroke-linecap="round" stroke-linejoin="round"/>
<path d="M134.72 289.94 L134.72 289.48 L135.18 288.56 L135.64 288.10 L136.56 287.64 L138.40 287.64 L139.32 288.10 L139.78 288.56 L140.24 289.48 L140.24 290.40 L139.78 291.32 L138.86 292.70 L134.26 297.30 L140.70 297.30" fill="none" stroke="#000" stroke-width="1.50" stroke-linecap="round" stroke-linejoin="round"/>
<path d="M190.63 287.64 L186.03 294.08 L192.93 294.08 M190.63 287.64 L190.63 297.30" fill="none" stroke="#000" stroke-width="1.50" stroke-linecap="round" stroke-linejoin="round"/>
<path d="M243.77 289.02 L243.31 288.10 L241.93 287.64 L241.01 287.64 L239.63 288.10 L238.71 289.48 L238.25 291.78 L238.25 294.08 L238.71 295.92 L239.63 296.84 L241.01 297.30 L241.47 297.30 L242.85 296.84 L243.77 295.92 L244.23 294.54 L244.23 294.08 L243.77 292.70 L242.85 291.78 L241.47 291.32 L241.01 291.32 L239.63 291.78 L238.71 292.70 L238.25 294.08" fill="none" stroke="#000" stroke-width="1.50" stroke-linecap="round" stroke-linejoin="round"/>
<path d="M291.86 287.64 L290.48 288.10 L290.02 289.02 L290.02 289.94 L290.48 290.86 L291.40 291.32 L293.24 291.78 L294.62 292.24 L295.54 293.16 L296.00 294.08 L296.00 295.46 L295.54 296.38 L295.08 296.84 L293.70 297.30 L291.86 297.30 L290.48 296.84 L290.02 296.38 L289.56 295.46 L289.56 294.08 L290.02 293.16 L290.94 292.24 L292.32 291.78 L294.16 291.32 L295.08 290.86 L295.54 289.94 L295.54 289.02 L295.08 288.10 L293.70 287.64 L291.86 287.64" fill="none" stroke="#000" stroke-width="1.50" stroke-linecap="round" stroke-linejoin="round"/>
<path d="M338.91 289.48 L339.83 289.02 L341.21 287.64 L341.21 297.30 M349.49 287.64 L348.11 288.10 L347.19 289.48 L346.73 291.78 L346.73 293.16 L347.19 295.46 L348.11 296.84 L349.49 297.30 L350.41 297.30 L351.79 296.84 L352.71 295.46 L353.17 293.16 L353.17 291.78 L352.71 289.48 L351.79 288.10 L350.41 287.64 L349.49 287.64" fill="none" stroke="#000" stroke-width="1.50" stroke-linecap="round" stroke-linejoin="round"/>
<path d="M195.51 305.84 L195.51 315.50 M192.29 305.84 L198.73 305.84 M200.57 305.84 L201.03 306.30 L201.49 305.84 L201.03 305.38 L200.57 305.84 M201.03 309.06 L201.03 315.50 M204.71 309.06 L204.71 315.50 M204.71 310.90 L206.09 309.52 L207.01 309.06 L208.39 309.06 L209.31 309.52 L209.77 310.90 L209.77 315.50 M209.77 310.90 L211.15 309.52 L212.07 309.06 L213.45 309.06 L214.37 309.52 L214.83 310.90 L214.83 315.50 M218.05 311.82 L223.57 311.82 L223.57 310.90 L223.11 309.98 L222.65 309.52 L221.73 309.06 L220.35 309.06 L219.43 309.52 L218.51 310.44 L218.05 311.82 L218.05 312.74 L218.51 314.12 L219.43 315.04 L220.35 315.50 L221.73 315.50 L222.65 315.04 L223.57 314.12 M237.37 304.00 L236.45 304.92 L235.53 306.30 L234.61 308.14 L234.15 310.44 L234.15 312.28 L234.61 314.58 L235.53 316.42 L236.45 317.80 L237.37 318.72 M239.67 309.06 L242.43 315.50 M245.19 309.06 L242.43 315.50 L241.51 317.34 L240.59 318.26 L239.67 318.72 L239.21 318.72 M247.49 311.82 L253.01 311.82 L253.01 310.90 L252.55 309.98 L252.09 309.52 L251.17 309.06 L249.79 309.06 L248.87 309.52 L247.95 310.44 L247.49 311.82 L247.49 312.74 L247.95 314.12 L248.87 315.04 L249.79 315.50 L251.17 315.50 L252.09 315.04 L253.01 314.12 M261.29 309.06 L261.29 315.50 M261.29 310.44 L260.37 309.52 L259.45 309.06 L258.07 309.06 L257.15 309.52 L256.23 310.44 L255.77 311.82 L255.77 312.74 L256.23 314.12 L257.15 315.04 L258.07 315.50 L259.45 315.50 L260.37 315.04 L261.29 314.12 M264.97 309.06 L264.97 315.50 M264.97 311.82 L265.43 310.44 L266.35 309.52 L267.27 309.06 L268.65 309.06 M275.55 310.44 L275.09 309.52 L273.71 309.06 L272.33 309.06 L270.95 309.52 L270.49 310.44 L270.95 311.36 L271.87 311.82 L274.17 312.28 L275.09 312.74 L275.55 313.66 L275.55 314.12 L275.09 315.04 L273.71 315.50 L272.33 315.50 L270.95 315.04 L270.49 314.12 M278.31 304.00 L279.23 304.92 L280.15 306.30 L281.07 308.14 L281.53 310.44 L281.53 312.28 L281.07 314.58 L280.15 316.42 L279.23 317.80 L278.31 318.72" fill="none" stroke="#000" stroke-width="1.50" stroke-linecap="round" stroke-linejoin="round"/>
<g transform="translate(37.6,152.5) rotate(-90)"><path d="M-21.96 -9.66 L-21.96 0.00 M-21.96 -9.66 L-17.82 -9.66 L-16.44 -9.20 L-15.98 -8.74 L-15.52 -7.82 L-15.52 -6.90 L-15.98 -5.98 L-16.44 -5.52 L-17.82 -5.06 M-21.96 -5.06 L-17.82 -5.06 L-16.44 -4.60 L-15.98 -4.14 L-15.52 -3.22 L-15.52 -1.84 L-15.98 -0.92 L-16.44 -0.46 L-17.82 0.00 L-21.96 0.00" fill="none" stroke="#000" stroke-width="1.50" stroke-linecap="round" stroke-linejoin="round"/><path d="M-13.00 2.91 L-13.00 6.90 M-13.00 4.62 L-12.71 3.76 L-12.14 3.19 L-11.57 2.91 L-10.72 2.91" fill="none" stroke="#000" stroke-width="1.50" stroke-linecap="round" stroke-linejoin="round"/><path d="M5.86 -11.50 L4.94 -10.58 L4.02 -9.20 L3.10 -7.36 L2.64 -5.06 L2.64 -3.22 L3.10 -0.92 L4.02 0.92 L4.94 2.30 L5.86 3.22 M15.52 -7.36 L15.06 -8.28 L14.14 -9.20 L13.22 -9.66 L11.38 -9.66 L10.46 -9.20 L9.54 -8.28 L9.08 -7.36 L8.62 -5.98 L8.62 -3.68 L9.08 -2.30 L9.54 -1.38 L10.46 -0.46 L11.38 0.00 L13.22 0.00 L14.14 -0.46 L15.06 -1.38 L15.52 -2.30 L15.52 -3.68 M13.22 -3.68 L15.52 -3.68 M18.28 -11.50 L19.20 -10.58 L20.12 -9.20 L21.04 -7.36 L21.50 -5.06 L21.50 -3.22 L21.04 -0.92 L20.12 0.92 L19.20 2.30 L18.28 3.22" fill="none" stroke="#000" stroke-width="1.50" stroke-linecap="round" stroke-linejoin="round"/></g>
<path d="M340.55 40.81 L337.85 40.81 L337.58 43.42 L337.85 43.13 L338.66 42.84 L339.47 42.84 L340.28 43.13 L340.82 43.71 L341.09 44.58 L341.09 45.16 L340.82 46.03 L340.28 46.61 L339.47 46.90 L338.66 46.90 L337.85 46.61 L337.58 46.32 L337.31 45.74" fill="none" stroke="#000" stroke-width="1.50" stroke-linecap="round" stroke-linejoin="round"/>
<path d="M327.05 42.90 h3.3 M327.05 44.90 h3.3" fill="none" stroke="#000" stroke-width="1.70" stroke-linecap="round" stroke-linejoin="round"/>
<path d="M310.57 49.39 L312.44 49.39 L312.44 49.01 L312.28 48.63 L312.12 48.45 L311.81 48.26 L311.35 48.26 L311.03 48.45 L310.72 48.82 L310.57 49.39 L310.57 49.77 L310.72 50.33 L311.03 50.71 L311.35 50.90 L311.81 50.90 L312.12 50.71 L312.44 50.33 M313.53 48.26 L313.53 50.90 M313.53 49.01 L313.99 48.45 L314.30 48.26 L314.77 48.26 L315.08 48.45 L315.24 49.01 L315.24 50.90 M315.24 49.01 L315.70 48.45 L316.02 48.26 L316.48 48.26 L316.79 48.45 L316.95 49.01 L316.95 50.90 M319.91 48.26 L319.91 51.28 L319.75 51.84 L319.60 52.03 L319.29 52.22 L318.82 52.22 L318.51 52.03 M319.91 48.82 L319.60 48.45 L319.29 48.26 L318.82 48.26 L318.51 48.45 L318.20 48.82 L318.04 49.39 L318.04 49.77 L318.20 50.33 L318.51 50.71 L318.82 50.90 L319.29 50.90 L319.60 50.71 L319.91 50.33" fill="none" stroke="#000" stroke-width="1.15" stroke-linecap="round" stroke-linejoin="round"/>
<path d="M306.57 41.22 L307.06 41.45 L307.44 42.26 L309.11 46.73 M307.90 43.56 L306.46 46.73" fill="none" stroke="#000" stroke-width="1.50" stroke-linecap="round" stroke-linejoin="round"/>
<path d="M348.1 44.45 H373.8" fill="none" stroke="#000" stroke-width="1.4"/>
<path d="M332.72 51.67 L333.26 51.38 L334.07 50.51 L334.07 56.60 M338.93 50.51 L338.12 50.80 L337.58 51.67 L337.31 53.12 L337.31 53.99 L337.58 55.44 L338.12 56.31 L338.93 56.60 L339.47 56.60 L340.28 56.31 L340.82 55.44 L341.09 53.99 L341.09 53.12 L340.82 51.67 L340.28 50.80 L339.47 50.51 L338.93 50.51" fill="none" stroke="#000" stroke-width="1.50" stroke-linecap="round" stroke-linejoin="round"/>
<path d="M321.65 52.60 h3.3 M321.65 54.60 h3.3" fill="none" stroke="#000" stroke-width="1.70" stroke-linecap="round" stroke-linejoin="round"/>
<path d="M305.17 59.09 L307.04 59.09 L307.04 58.71 L306.88 58.33 L306.72 58.15 L306.41 57.96 L305.95 57.96 L305.63 58.15 L305.32 58.52 L305.17 59.09 L305.17 59.47 L305.32 60.03 L305.63 60.41 L305.95 60.60 L306.41 60.60 L306.72 60.41 L307.04 60.03 M308.13 57.96 L308.13 60.60 M308.13 58.71 L308.59 58.15 L308.90 57.96 L309.37 57.96 L309.68 58.15 L309.84 58.71 L309.84 60.60 M309.84 58.71 L310.30 58.15 L310.62 57.96 L311.08 57.96 L311.39 58.15 L311.55 58.71 L311.55 60.60 M314.51 57.96 L314.51 60.98 L314.35 61.54 L314.20 61.73 L313.89 61.92 L313.42 61.92 L313.11 61.73 M314.51 58.52 L314.20 58.15 L313.89 57.96 L313.42 57.96 L313.11 58.15 L312.80 58.52 L312.64 59.09 L312.64 59.47 L312.80 60.03 L313.11 60.41 L313.42 60.60 L313.89 60.60 L314.20 60.41 L314.51 60.03" fill="none" stroke="#000" stroke-width="1.15" stroke-linecap="round" stroke-linejoin="round"/>
<path d="M301.17 50.92 L301.66 51.15 L302.04 51.96 L303.71 56.43 M302.50 53.27 L301.06 56.43" fill="none" stroke="#000" stroke-width="1.50" stroke-linecap="round" stroke-linejoin="round"/>
<path d="M348.1 54.00 H373.8" fill="none" stroke="#ff0000" stroke-width="1.4" stroke-dasharray="1.6 2.97"/>
<path d="M332.18 61.66 L332.18 61.37 L332.45 60.79 L332.72 60.50 L333.26 60.21 L334.34 60.21 L334.88 60.50 L335.15 60.79 L335.42 61.37 L335.42 61.95 L335.15 62.53 L334.61 63.40 L331.91 66.30 L335.69 66.30 M338.93 60.21 L338.12 60.50 L337.58 61.37 L337.31 62.82 L337.31 63.69 L337.58 65.14 L338.12 66.01 L338.93 66.30 L339.47 66.30 L340.28 66.01 L340.82 65.14 L341.09 63.69 L341.09 62.82 L340.82 61.37 L340.28 60.50 L339.47 60.21 L338.93 60.21" fill="none" stroke="#000" stroke-width="1.50" stroke-linecap="round" stroke-linejoin="round"/>
<path d="M321.65 62.30 h3.3 M321.65 64.30 h3.3" fill="none" stroke="#000" stroke-width="1.70" stroke-linecap="round" stroke-linejoin="round"/>
<path d="M305.17 68.79 L307.04 68.79 L307.04 68.41 L306.88 68.03 L306.72 67.85 L306.41 67.66 L305.95 67.66 L305.63 67.85 L305.32 68.22 L305.17 68.79 L305.17 69.17 L305.32 69.73 L305.63 70.11 L305.95 70.30 L306.41 70.30 L306.72 70.11 L307.04 69.73 M308.13 67.66 L308.13 70.30 M308.13 68.41 L308.59 67.85 L308.90 67.66 L309.37 67.66 L309.68 67.85 L309.84 68.41 L309.84 70.30 M309.84 68.41 L310.30 67.85 L310.62 67.66 L311.08 67.66 L311.39 67.85 L311.55 68.41 L311.55 70.30 M314.51 67.66 L314.51 70.68 L314.35 71.24 L314.20 71.43 L313.89 71.62 L313.42 71.62 L313.11 71.43 M314.51 68.22 L314.20 67.85 L313.89 67.66 L313.42 67.66 L313.11 67.85 L312.80 68.22 L312.64 68.79 L312.64 69.17 L312.80 69.73 L313.11 70.11 L313.42 70.30 L313.89 70.30 L314.20 70.11 L314.51 69.73" fill="none" stroke="#000" stroke-width="1.15" stroke-linecap="round" stroke-linejoin="round"/>
<path d="M301.17 60.62 L301.66 60.85 L302.04 61.66 L303.71 66.13 M302.50 62.96 L301.06 66.13" fill="none" stroke="#000" stroke-width="1.50" stroke-linecap="round" stroke-linejoin="round"/>
<path d="M348.1 63.90 H373.8" fill="none" stroke="#008000" stroke-width="1.4" stroke-dasharray="6.8 6.3"/>
<path d="M332.45 69.91 L335.42 69.91 L333.80 72.23 L334.61 72.23 L335.15 72.52 L335.42 72.81 L335.69 73.68 L335.69 74.26 L335.42 75.13 L334.88 75.71 L334.07 76.00 L333.26 76.00 L332.45 75.71 L332.18 75.42 L331.91 74.84 M338.93 69.91 L338.12 70.20 L337.58 71.07 L337.31 72.52 L337.31 73.39 L337.58 74.84 L338.12 75.71 L338.93 76.00 L339.47 76.00 L340.28 75.71 L340.82 74.84 L341.09 73.39 L341.09 72.52 L340.82 71.07 L340.28 70.20 L339.47 69.91 L338.93 69.91" fill="none" stroke="#000" stroke-width="1.50" stroke-linecap="round" stroke-linejoin="round"/>
<path d="M321.65 72.00 h3.3 M321.65 74.00 h3.3" fill="none" stroke="#000" stroke-width="1.70" stroke-linecap="round" stroke-linejoin="round"/>
<path d="M305.17 78.49 L307.04 78.49 L307.04 78.11 L306.88 77.73 L306.72 77.55 L306.41 77.36 L305.95 77.36 L305.63 77.55 L305.32 77.92 L305.17 78.49 L305.17 78.87 L305.32 79.43 L305.63 79.81 L305.95 80.00 L306.41 80.00 L306.72 79.81 L307.04 79.43 M308.13 77.36 L308.13 80.00 M308.13 78.11 L308.59 77.55 L308.90 77.36 L309.37 77.36 L309.68 77.55 L309.84 78.11 L309.84 80.00 M309.84 78.11 L310.30 77.55 L310.62 77.36 L311.08 77.36 L311.39 77.55 L311.55 78.11 L311.55 80.00 M314.51 77.36 L314.51 80.38 L314.35 80.94 L314.20 81.13 L313.89 81.32 L313.42 81.32 L313.11 81.13 M314.51 77.92 L314.20 77.55 L313.89 77.36 L313.42 77.36 L313.11 77.55 L312.80 77.92 L312.64 78.49 L312.64 78.87 L312.80 79.43 L313.11 79.81 L313.42 80.00 L313.89 80.00 L314.20 79.81 L314.51 79.43" fill="none" stroke="#000" stroke-width="1.15" stroke-linecap="round" stroke-linejoin="round"/>
<path d="M301.17 70.32 L301.66 70.55 L302.04 71.36 L303.71 75.83 M302.50 72.67 L301.06 75.83" fill="none" stroke="#000" stroke-width="1.50" stroke-linecap="round" stroke-linejoin="round"/>
<path d="M348.1 73.40 H373.8" fill="none" stroke="#0000ff" stroke-width="1.4" stroke-dasharray="6.7 3 2 2.94"/>
<path d="M334.61 79.51 L331.91 83.57 L335.96 83.57 M334.61 79.51 L334.61 85.60 M338.93 79.51 L338.12 79.80 L337.58 80.67 L337.31 82.12 L337.31 82.99 L337.58 84.44 L338.12 85.31 L338.93 85.60 L339.47 85.60 L340.28 85.31 L340.82 84.44 L341.09 82.99 L341.09 82.12 L340.82 80.67 L340.28 79.80 L339.47 79.51 L338.93 79.51" fill="none" stroke="#000" stroke-width="1.50" stroke-linecap="round" stroke-linejoin="round"/>
<path d="M321.65 81.60 h3.3 M321.65 83.60 h3.3" fill="none" stroke="#000" stroke-width="1.70" stroke-linecap="round" stroke-linejoin="round"/>
<path d="M305.17 88.09 L307.04 88.09 L307.04 87.71 L306.88 87.33 L306.72 87.15 L306.41 86.96 L305.95 86.96 L305.63 87.15 L305.32 87.52 L305.17 88.09 L305.17 88.47 L305.32 89.03 L305.63 89.41 L305.95 89.60 L306.41 89.60 L306.72 89.41 L307.04 89.03 M308.13 86.96 L308.13 89.60 M308.13 87.71 L308.59 87.15 L308.90 86.96 L309.37 86.96 L309.68 87.15 L309.84 87.71 L309.84 89.60 M309.84 87.71 L310.30 87.15 L310.62 86.96 L311.08 86.96 L311.39 87.15 L311.55 87.71 L311.55 89.60 M314.51 86.96 L314.51 89.98 L314.35 90.54 L314.20 90.73 L313.89 90.92 L313.42 90.92 L313.11 90.73 M314.51 87.52 L314.20 87.15 L313.89 86.96 L313.42 86.96 L313.11 87.15 L312.80 87.52 L312.64 88.09 L312.64 88.47 L312.80 89.03 L313.11 89.41 L313.42 89.60 L313.89 89.60 L314.20 89.41 L314.51 89.03" fill="none" stroke="#000" stroke-width="1.15" stroke-linecap="round" stroke-linejoin="round"/>
<path d="M301.17 79.92 L301.66 80.15 L302.04 80.96 L303.71 85.43 M302.50 82.27 L301.06 85.43" fill="none" stroke="#000" stroke-width="1.50" stroke-linecap="round" stroke-linejoin="round"/>
<path d="M348.1 83.00 H373.8" fill="none" stroke="#ff00ff" stroke-width="1.4" stroke-dasharray="9.7 3 2 3 2 3 2 2.94"/>
</svg>
</body></html>
